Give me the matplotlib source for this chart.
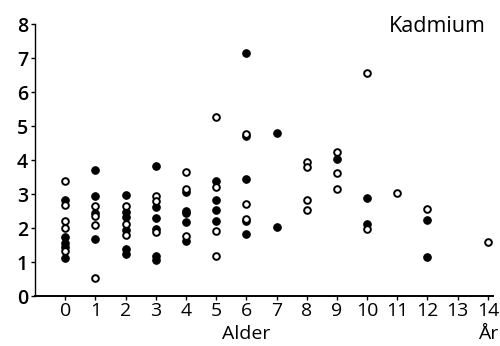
import matplotlib
matplotlib.use("Agg")
import matplotlib.pyplot as plt
import matplotlib.transforms as mtransforms

plt.rcParams['font.family'] = ['Open Sans', 'DejaVu Sans']

# Filled circles: (age, value)
filled_age = [0, 0, 0, 0, 0,
              1, 1, 1, 1,
              2, 2, 2, 2, 2, 2,
              3, 3, 3, 3, 3, 3,
              4, 4, 4, 4, 4,
              5, 5, 5, 5,
              6, 6, 6, 6, 6,
              7, 7,
              9,
              10, 10,
              12, 12]
filled_val = [2.81, 1.74, 1.55, 1.43, 1.11,
              3.71, 2.93, 2.44, 1.68,
              2.96, 2.48, 2.33, 1.94, 1.37, 1.23,
              3.82, 2.63, 2.28, 1.97, 1.17, 1.07,
              3.05, 2.51, 2.43, 2.19, 1.62,
              3.37, 2.82, 2.54, 2.22,
              7.15, 4.72, 3.43, 2.22, 1.82,
              4.80, 2.03,
              4.03,
              2.89, 2.11,
              2.24, 1.16]

# Open circles: (age, value)
open_age = [0, 0, 0, 0, 0,
            1, 1, 1, 1,
            2, 2, 2,
            3, 3, 3,
            4, 4, 4,
            5, 5, 5, 5,
            6, 6, 6,
            8, 8, 8, 8,
            9, 9, 9,
            10, 10,
            11,
            12,
            14]
open_val = [3.39, 2.68, 2.21, 1.99, 1.33,
            2.64, 2.36, 2.10, 0.52,
            2.66, 2.13, 1.79,
            2.94, 2.78, 1.89,
            3.65, 3.16, 1.76,
            5.27, 3.22, 1.91, 1.19,
            4.76, 2.72, 2.27,
            3.94, 3.79, 2.82, 2.54,
            4.23, 3.63, 3.15,
            6.57, 1.97,
            3.04,
            2.56,
            1.60]

x_ticks = list(range(0, 15))
y_ticks = list(range(0, 9))

fig = plt.figure(figsize=(5.0, 3.46), dpi=100)
ax = fig.add_axes([0.07, 0.1445, 0.916, 0.786])

ax.plot(filled_age, filled_val, linestyle='none', marker='o', markersize=5.4,
        markerfacecolor='black', markeredgecolor='black', markeredgewidth=0.8)
ax.plot(open_age, open_val, linestyle='none', marker='o', markersize=4.8,
        markerfacecolor='white', markeredgecolor='black', markeredgewidth=1.4)

ax.set_xlim(-1, 14.17)
ax.set_ylim(0, 8)
ax.set_xticks(x_ticks)
ax.set_yticks(y_ticks)
ax.set_xticklabels([str(t) for t in x_ticks], fontsize=14)
ax.set_yticklabels([str(t) for t in y_ticks], fontsize=14, fontweight='semibold')

for s in ['top', 'right']:
    ax.spines[s].set_visible(False)
ax.spines['left'].set_linewidth(1.0)
ax.spines['bottom'].set_linewidth(1.4)
ax.tick_params(axis='both', direction='out', length=3, width=1.0, colors='black')
ax.tick_params(axis='x', pad=1.5)
ax.tick_params(axis='y', pad=2)

trans = mtransforms.blended_transform_factory(ax.transData, ax.transAxes)
ax.text(6, -0.105, 'Alder', transform=trans, ha='center', va='top', fontsize=14)
ax.text(14, -0.105, 'År', transform=trans, ha='center', va='top', fontsize=14)
ax.text(0.985, 1.03, 'Kadmium', transform=ax.transAxes, ha='right', va='top', fontsize=15.5)

fig.savefig('out.png', dpi=100)
